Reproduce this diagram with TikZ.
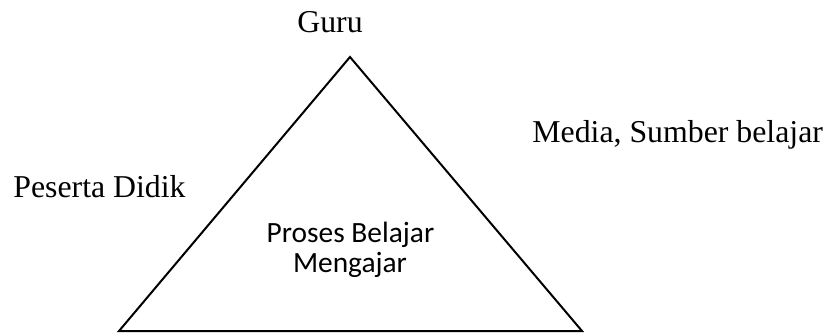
\documentclass[tikz,border=0pt]{standalone}
\usepackage{fontspec}
\setmainfont{Liberation Serif}
\newfontfamily\bodysans{Carlito}
\begin{document}
\begin{tikzpicture}[x=0.5pt,y=-0.5pt,
  label/.style={inner sep=0pt,font=\fontsize{15.9}{18}\selectfont},
  inner/.style={inner sep=0pt,font=\bodysans\fontsize{14.7}{14.7}\selectfont},
  edge/.style={line width=1pt,line join=miter}]
  \useasboundingbox (0,0) rectangle (830,333);
  % corners of the triangle
  \coordinate (top) at (350,57);
  \coordinate (bl) at (119,331);
  \coordinate (br) at (582,331);
  \draw[edge] (top) -- (br) -- (bl) -- cycle;
  % labels around the triangle
  \node[label,anchor=base] (guru) at (330,32) {Guru};
  \node[label,anchor=base west] (media) at (532,142.5) {Media, Sumber belajar};
  \node[label,anchor=base west] (siswa) at (13,197) {Peserta Didik};
  % text inside
  \node[inner,anchor=base] (pbm1) at (350.5,242.5) {Proses Belajar};
  \node[inner,anchor=base] (pbm2) at (350,272) {Mengajar};
\end{tikzpicture}
\end{document}
